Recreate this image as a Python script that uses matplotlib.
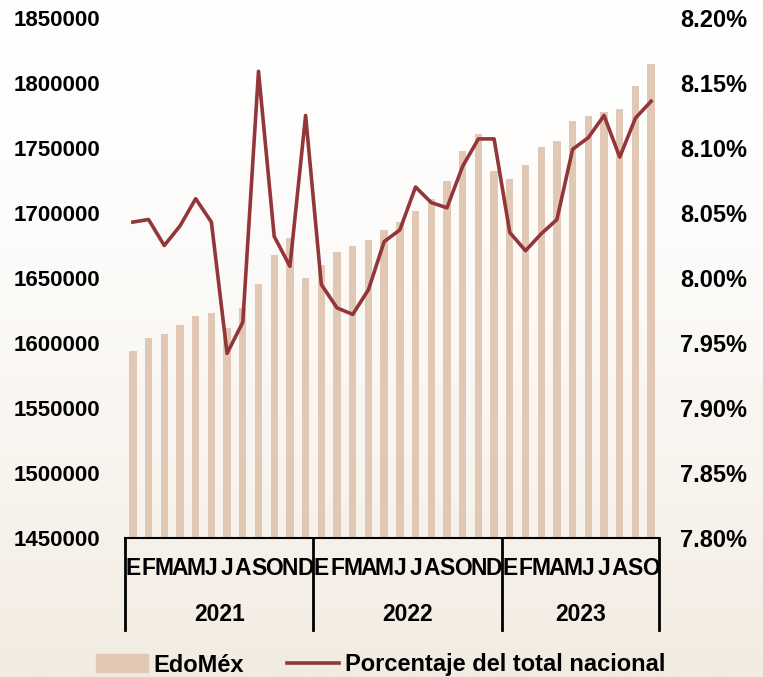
import numpy as np
import matplotlib.pyplot as plt
import matplotlib.transforms as mtransforms
from matplotlib.patches import Patch
from matplotlib.lines import Line2D

plt.rcParams['font.family'] = ['Liberation Sans', 'DejaVu Sans']

# Datos: trabajadores EdoMéx (ene 2021 - oct 2023) y % del total nacional
meses = ['E', 'F', 'M', 'A', 'M', 'J', 'J', 'A', 'S', 'O', 'N', 'D'] * 2 + \
        ['E', 'F', 'M', 'A', 'M', 'J', 'J', 'A', 'S', 'O']
anios = ['2021', '2022', '2023']
edomex = [1594100, 1603800, 1606900, 1613600, 1620800, 1622800, 1611800, 1626700,
          1645100, 1667700, 1681000, 1650200,
          1659800, 1670200, 1674600, 1679000, 1686700, 1693100, 1701300, 1711000,
          1724400, 1747700, 1760800, 1732500,
          1726200, 1737200, 1751000, 1755600, 1770500, 1774600, 1777900, 1780200,
          1797500, 1814400]
porcentaje = [8.043, 8.045, 8.025, 8.040, 8.061, 8.043, 7.942, 7.966,
              8.159, 8.032, 8.009, 8.125,
              7.995, 7.977, 7.972, 7.991, 8.028, 8.037, 8.070, 8.058,
              8.054, 8.086, 8.107, 8.107,
              8.035, 8.021, 8.034, 8.045, 8.099, 8.108, 8.125, 8.093,
              8.123, 8.136]
ticks_izq = list(range(1450000, 1850001, 50000))
ticks_der = [7.80, 7.85, 7.90, 7.95, 8.00, 8.05, 8.10, 8.15, 8.20]

bar_color = '#e0c8b5'
line_color = '#923639'
fs = 16

fig = plt.figure(figsize=(7.63, 6.77), dpi=100)

# fondo degradado blanco -> beige
bg = fig.add_axes([0, 0, 1, 1], zorder=-10)
grad = np.linspace(0, 1, 256) ** 1.6
cols = np.array([1.0, 1.0, 1.0])[None, :] * (1 - grad[:, None]) + \
       np.array([242, 235, 225])[None, :] / 255 * grad[:, None]
bg.imshow(cols[:, None, :], aspect='auto', extent=[0, 1, 0, 1], origin='upper')
bg.axis('off')

ax = fig.add_axes([125 / 763, 1 - 538 / 677, 534 / 763, 520 / 677])
ax.patch.set_alpha(0)
x = np.arange(len(edomex))
ax.bar(x, edomex, width=0.47, color=bar_color, zorder=2)
ax.set_ylim(1450000, 1850000)
ax.set_xlim(-0.5, len(edomex) - 0.5)
ax.set_yticks(ticks_izq)
ax.set_yticklabels([str(v) for v in ticks_izq], fontweight='bold', fontsize=fs)
ax.tick_params(axis='y', length=0, pad=18)
ax.set_xticks([])
for s in ['top', 'left', 'right']:
    ax.spines[s].set_visible(False)
ax.spines['bottom'].set_linewidth(1.5)

ax2 = ax.twinx()
ax2.plot(x, porcentaje, color=line_color, lw=2.6, zorder=3)
ax2.set_ylim(7.80, 8.20)
ax2.set_yticks(ticks_der)
ax2.set_yticklabels([f'{v:.2f}%' for v in ticks_der], fontweight='bold', fontsize=fs + 1)
ax2.tick_params(axis='y', length=0, pad=15)
for s in ['top', 'left', 'right', 'bottom']:
    ax2.spines[s].set_visible(False)

# eje categórico de dos niveles
trans = mtransforms.blended_transform_factory(ax.transData, ax.transAxes)
for i, m in enumerate(meses):
    ax.text(i, -0.059, m, transform=trans, ha='center', va='center',
            fontsize=fs + 0.5, fontweight='bold', clip_on=False)
bordes = [-0.5, 11.5, 23.5, len(edomex) - 0.5]
for b in bordes:
    ax.plot([b, b], [0, -0.177], transform=trans, color='black', lw=2,
            clip_on=False)
for k, a in enumerate(anios):
    ax.text((bordes[k] + bordes[k + 1]) / 2, -0.148, a, transform=trans,
            ha='center', va='center', fontsize=fs + 0.5, fontweight='bold',
            clip_on=False)

handles = [Patch(color=bar_color, label='EdoMéx'),
           Line2D([0], [0], color=line_color, lw=2.6,
                  label='Porcentaje del total nacional')]
fig.legend(handles=handles, loc='center left', bbox_to_anchor=(96 / 763, 1 - 665 / 677),
           ncol=2, frameon=False, prop={'size': 17, 'weight': 'bold'},
           handlelength=2.2, handleheight=0.8, handletextpad=0.25,
           columnspacing=1.8, borderaxespad=0, borderpad=0)

fig.savefig('out.png', dpi=100)
